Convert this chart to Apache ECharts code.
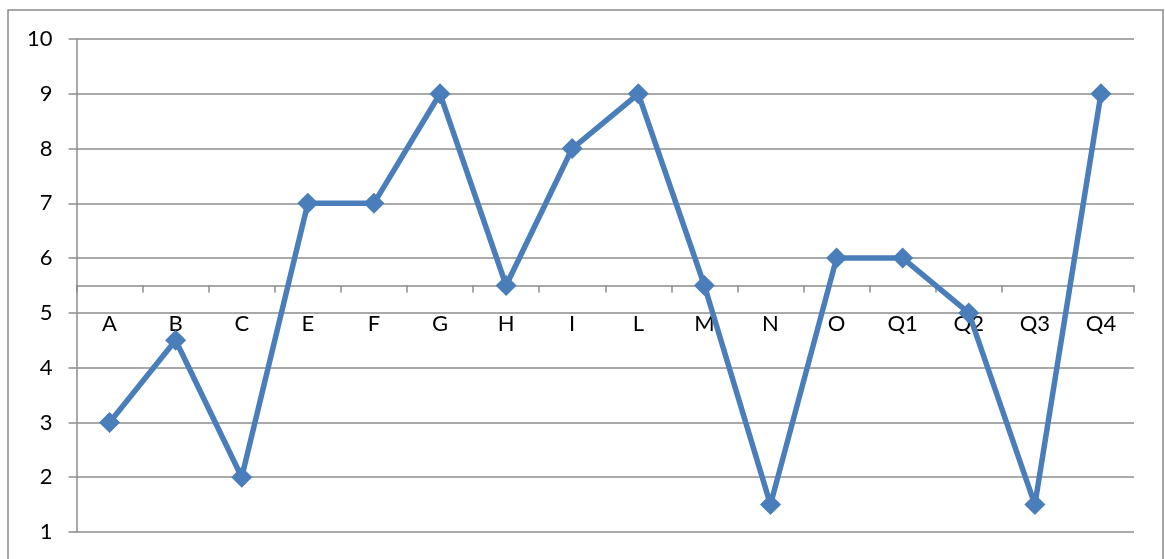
<!DOCTYPE html>
<html>
<head>
<meta charset="utf-8">
<script src="https://cdn.jsdelivr.net/npm/echarts@6/dist/echarts.min.js"></script>
<style>
  html, body { margin: 0; padding: 0; background: #fff; }
  #chart { width: 1165px; height: 559px; }
</style>
</head>
<body>
<div id="chart"></div>
<script>
// Categories and values of the line series
const categories = ['A', 'B', 'C', 'E', 'F', 'G', 'H', 'I', 'L', 'M', 'N', 'O', 'Q1', 'Q2', 'Q3', 'Q4'];
const values = [3, 4.5, 2, 7, 7, 9, 5.5, 8, 9, 5.5, 1.5, 6, 6, 5, 1.5, 9];

// Value axis range; the category axis crosses it at crossValue
const yMin = 1;
const yMax = 10;
const yStep = 1;
const crossValue = 5.5;

const gridTop = 39;
const gridBottom = 27;   // 559 - 532
const gridHeight = 559 - gridTop - gridBottom;
const axisShift = -(crossValue - yMin) / (yMax - yMin) * gridHeight;

const gray = '#8c8c8c';
const font = 'Lato, "Noto Sans", sans-serif';

const chart = echarts.init(document.getElementById('chart'), null, { renderer: 'canvas' });
chart.setOption({
  animation: false,
  backgroundColor: '#ffffff',
  graphic: [{
    type: 'rect',
    shape: { x: 8, y: 10, width: 1155, height: 560 },
    style: { fill: 'none', stroke: '#8a8a8a', lineWidth: 1.5 },
    silent: true
  }],
  grid: { left: 76.5, right: 31, top: gridTop, bottom: gridBottom, containLabel: false },
  xAxis: {
    type: 'category',
    data: categories,
    boundaryGap: true,
    offset: axisShift,
    axisLine: { onZero: false, lineStyle: { color: gray, width: 1.5 } },
    axisTick: { show: true, inside: false, length: 7, alignWithLabel: false, lineStyle: { color: gray, width: 1.5 } },
    axisLabel: { color: '#000', fontFamily: font, fontSize: 22, margin: 27, interval: 0 },
    splitLine: { show: false }
  },
  yAxis: {
    type: 'value',
    min: yMin,
    max: yMax,
    interval: yStep,
    axisLine: { show: true, lineStyle: { color: gray, width: 1.5 } },
    axisTick: { show: true, inside: false, length: 8, lineStyle: { color: gray, width: 1.5 } },
    axisLabel: { color: '#000', fontFamily: font, fontSize: 22, margin: 24 },
    splitLine: { show: true, lineStyle: { color: gray, width: 1.5 } }
  },
  series: [{
    type: 'line',
    data: values,
    symbol: 'diamond',
    symbolSize: 21,
    lineStyle: { color: '#4a7ebb', width: 5.5 },
    itemStyle: { color: '#4a7ebb' },
    z: 3
  }]
});
</script>
</body>
</html>
